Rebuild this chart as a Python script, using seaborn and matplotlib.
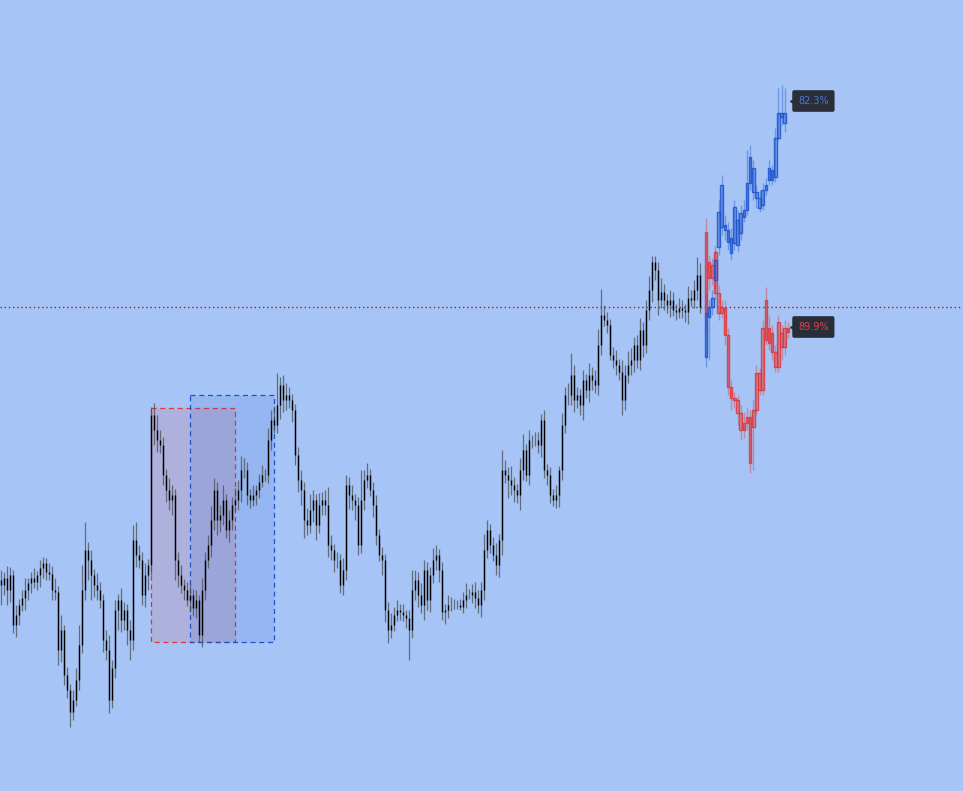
import numpy as np
import seaborn as sns
import matplotlib.pyplot as plt
from matplotlib.patches import Rectangle
from matplotlib.colors import to_rgba

# price levels (screen-y units, axis is inverted)
closes = [
    585, 578, 590, 575, 625, 615, 605, 598, 590, 583,
    578, 582, 575, 568, 563, 572, 574, 590, 592, 650,
    630, 675, 690, 712, 700, 680, 645, 590, 550, 560,
    575, 585, 590, 600, 640, 650, 700, 668, 610, 600,
    620, 610, 630, 640, 540, 555, 560, 595, 575, 565,
    415, 430, 440, 445, 475, 490, 500, 495, 560, 575,
    585, 590, 600, 595, 608, 600, 635, 590, 560, 545,
    520, 490, 520, 515, 500, 530, 520, 505, 500, 490,
    470, 470, 495, 500, 495, 490, 482, 475, 475, 440,
    420, 425, 405, 385, 400, 395, 400, 410, 455, 480,
    490, 520, 525, 510, 500, 525, 505, 500, 505, 545,
    550, 560, 560, 585, 570, 485, 495, 500, 505, 545,
    500, 480, 475, 490, 505, 535, 555, 560, 610, 630,
    625, 615, 610, 612, 615, 618, 630, 590, 580, 595,
    605, 570, 600, 575, 560, 555, 570, 612, 610, 605,
    605, 605, 605, 607, 600, 595, 595, 592, 598, 605,
    590, 550, 530, 545, 555, 565, 540, 470, 475, 480,
    485, 490, 495, 470, 450, 475, 440, 440, 440, 445,
    420, 470, 475, 495, 500, 495, 470, 425, 395, 395,
    375, 400, 395, 405, 380, 390, 375, 380, 385, 345,
    315, 320, 325, 355, 360, 365, 372, 400, 375, 365,
    360, 345, 360, 330, 345, 310, 290, 262, 270, 300,
    292, 300, 305, 300, 310, 312, 308, 310, 312, 298,
    300, 290, 275, 307,
]
first_open = 580

wick_up = [
    10, 6, 12, 8, 5, 10, 6, 8, 12, 5,
    6, 10, 4, 8, 6, 5, 9, 8, 12, 6,
    15, 5, 8, 6, 10, 12, 20, 25, 28, 8,
    10, 6, 12, 8, 6, 10, 15, 8, 10, 6,
    12, 8, 6, 10, 15, 18, 10, 8, 12, 6,
    8, 12, 15, 10, 8, 6, 12, 10, 6, 8,
    10, 6, 8, 12, 6, 10, 5, 12, 8, 10,
    14, 12, 8, 10, 15, 6, 10, 8, 12, 10,
    14, 12, 8, 6, 10, 5, 8, 10, 6, 12,
    10, 14, 32, 8, 10, 12, 8, 6, 6, 8,
    10, 8, 12, 16, 10, 6, 12, 8, 10, 18,
    10, 6, 8, 6, 12, 10, 8, 10, 6, 8,
    30, 10, 12, 6, 8, 10, 6, 8, 6, 8,
    12, 8, 10, 6, 8, 5, 8, 20, 10, 8,
    12, 10, 8, 8, 12, 10, 6, 8, 6, 10,
    8, 6, 5, 6, 8, 12, 6, 8, 10, 8,
    8, 16, 10, 6, 8, 12, 6, 20, 10, 8,
    14, 8, 6, 12, 16, 6, 10, 5, 8, 8,
    6, 10, 6, 8, 6, 10, 4, 12, 8, 12,
    22, 10, 8, 6, 10, 6, 12, 8, 10, 16,
    26, 10, 8, 6, 8, 10, 6, 12, 10, 14,
    12, 8, 10, 12, 8, 10, 14, 6, 6, 8,
    14, 8, 6, 10, 8, 6, 10, 8, 6, 12,
    8, 10, 18, 12,
]
wick_down = [
    20, 10, 15, 12, 8, 12, 10, 6, 12, 10,
    10, 6, 8, 12, 10, 8, 6, 10, 8, 15,
    12, 10, 8, 15, 8, 6, 10, 8, 10, 20,
    25, 12, 10, 8, 12, 10, 13, 8, 10, 20,
    12, 10, 15, 20, 10, 12, 8, 10, 12, 15,
    10, 15, 12, 8, 10, 12, 10, 15, 20, 12,
    8, 10, 6, 12, 8, 10, 7, 12, 10, 8,
    12, 10, 15, 12, 10, 8, 12, 10, 6, 10,
    12, 8, 10, 8, 6, 10, 8, 5, 6, 8,
    10, 8, 8, 14, 12, 10, 8, 12, 10, 12,
    15, 18, 10, 8, 12, 15, 8, 10, 10, 12,
    10, 12, 8, 8, 10, 10, 14, 10, 15, 10,
    8, 10, 8, 6, 12, 10, 6, 15, 12, 13,
    8, 6, 6, 8, 6, 10, 30, 8, 10, 12,
    8, 15, 10, 12, 8, 10, 12, 8, 12, 8,
    6, 4, 4, 3, 6, 8, 4, 8, 10, 8,
    12, 10, 8, 8, 6, 10, 12, 15, 8, 18,
    10, 12, 8, 15, 10, 6, 10, 8, 6, 8,
    12, 8, 10, 8, 6, 8, 12, 10, 8, 10,
    10, 12, 8, 10, 15, 8, 12, 10, 8, 10,
    10, 6, 8, 5, 8, 10, 8, 15, 10, 8,
    10, 12, 8, 10, 12, 8, 10, 12, 10, 15,
    8, 10, 8, 12, 6, 8, 6, 8, 10, 12,
    6, 8, 10, 6,
]

# projected paths: open, close, high, low
red_open = [313, 262, 278, 252, 293, 313, 308, 335, 387, 398, 400, 413, 430, 423,
            417, 427, 410, 373, 390, 340, 328, 333, 352, 367, 333, 347, 328]
red_close = [232, 278, 265, 293, 313, 307, 335, 387, 398, 400, 413, 430, 423, 417,
             463, 410, 373, 390, 328, 300, 343, 352, 367, 322, 347, 328, 332]
red_high = [218, 255, 258, 245, 285, 300, 300, 328, 380, 392, 395, 405, 412, 408,
            410, 400, 365, 368, 320, 287, 315, 325, 345, 315, 325, 320, 322]
red_low = [330, 290, 285, 300, 320, 318, 345, 395, 410, 408, 425, 440, 438, 430,
           473, 470, 415, 395, 395, 345, 350, 360, 372, 372, 360, 355, 338]

blue_open = [313, 317, 307, 280, 247, 227, 225, 230, 238, 243, 220, 233, 217,
             210, 183, 168, 192, 198, 205, 190, 180, 180, 177, 138, 117, 113]
blue_close = [357, 307, 298, 260, 212, 185, 230, 242, 253, 207, 245, 213, 210,
              183, 157, 192, 198, 208, 190, 185, 168, 170, 138, 113, 113, 123]
blue_high = [293, 300, 290, 250, 200, 175, 215, 222, 228, 200, 210, 205, 200,
             150, 145, 160, 185, 190, 183, 178, 160, 165, 128, 88, 85, 88]
blue_low = [367, 360, 315, 290, 255, 235, 240, 250, 260, 250, 252, 240, 222,
            215, 190, 200, 208, 212, 210, 195, 185, 185, 182, 140, 125, 132]

level = 307
red_zone = (50, 78, 408, 642)    # start bar, end bar, top, bottom
blue_zone = (63, 91, 395, 642)
labels = ["82.3%", "89.9%"]
label_levels = [101, 327]

bg = "#a6c4f5"
red = "#e03535"
blue = "#1c52cc"

sns.set_theme(style="white", rc={"axes.facecolor": bg, "figure.facecolor": bg})

fig = plt.figure(figsize=(9.63, 7.91), dpi=100)
ax = fig.add_axes([0, 0, 1, 1])

n = len(closes)
x = np.arange(n)
c = np.array(closes, dtype=float)
o = np.concatenate([[first_open], c[:-1]])
hi = np.minimum(o, c) - np.array(wick_up)
lo = np.maximum(o, c) + np.array(wick_down)

# zones
for (x0, x1, top, bot), col in [(red_zone, red), (blue_zone, blue)]:
    fc = to_rgba(col, 0.13 if col == red else 0.12)
    ax.add_patch(Rectangle((x0, top), x1 - x0, bot - top, facecolor=fc,
                           edgecolor=col, linestyle=(0, (4, 3)), linewidth=0.9, zorder=1))

# historical bars
ax.vlines(x, hi, lo, color="#474747", alpha=0.7, linewidth=0.9, zorder=3)
ax.vlines(x, o, c, color="black", linewidth=1.0, zorder=4)

# level line
ax.axhline(level, color="#a82020", linestyle=(0, (1, 2)), linewidth=1.0, zorder=2)

# projections
def draw_proj(op, cl, h, l, col):
    px = n + 1 + np.arange(len(op)) * 1.05
    op, cl = np.array(op, float), np.array(cl, float)
    ax.vlines(px, h, l, color=col, alpha=0.4, linewidth=1.0, zorder=5)
    ax.bar(px, cl - op, bottom=op, width=0.85, facecolor=to_rgba(col, 0.3),
           edgecolor=to_rgba(col, 0.85), linewidth=1.0, zorder=6)
    return px[-1]

last_red = draw_proj(red_open, red_close, red_high, red_low, red)
last_blue = draw_proj(blue_open, blue_close, blue_high, blue_low, blue)

# value tags
tx = max(last_red, last_blue) + 3.4
for txt, lvl, col in [(labels[0], label_levels[0], "#4a78dc"),
                      (labels[1], label_levels[1], "#e0404c")]:
    ax.plot(tx - 1.3, lvl, marker="<", markersize=6, color="#2a2e39",
            linestyle="none", zorder=7)
    ax.text(tx, lvl, txt, color=col, fontsize=7, ha="left", va="center", zorder=8,
            bbox=dict(boxstyle="round,pad=0.6,rounding_size=0.2", fc="#2a2e39", ec="none"))

ax.set_xlim(-1 / 3, 962 / 3)
ax.set_ylim(791, 0)
ax.axis("off")

fig.savefig("out.png", dpi=100, facecolor=bg)
